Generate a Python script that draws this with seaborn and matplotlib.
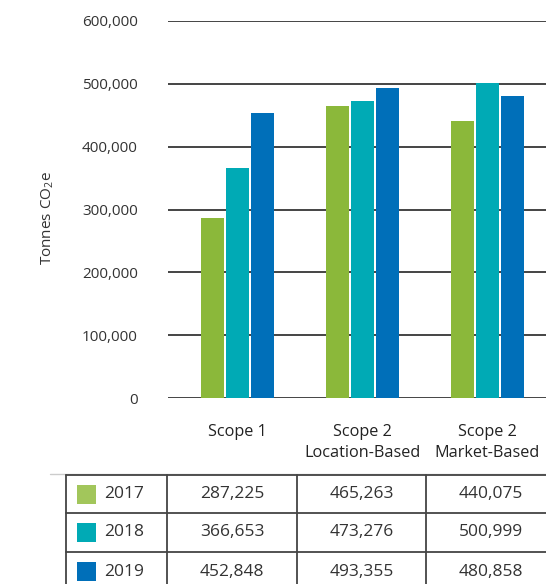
import matplotlib
matplotlib.use("Agg")
import matplotlib.pyplot as plt
import seaborn as sns
import pandas as pd
from matplotlib.patches import Rectangle

categories = ["Scope 1", "Scope 2\nLocation-Based", "Scope 2\nMarket-Based"]
years = ["2017", "2018", "2019"]
values_2017 = [287225, 465263, 440075]
values_2018 = [366653, 473276, 500999]
values_2019 = [452848, 493355, 480858]
yticks = [0, 100000, 200000, 300000, 400000, 500000, 600000]
ytick_labels = ["0", "100,000", "200,000", "300,000", "400,000", "500,000", "600,000"]
bar_colors = ["#8BB83A", "#00AAB5", "#006FB9"]
swatch_colors = ["#A2C65B", "#00AAB5", "#006FB9"]

series = {"2017": values_2017, "2018": values_2018, "2019": values_2019}
rows = []
for y in years:
    for c, v in zip(categories, series[y]):
        rows.append({"category": c, "year": y, "value": v})
df = pd.DataFrame(rows)

sns.set_theme(style="white")
plt.rcParams["font.family"] = ["Open Sans", "DejaVu Sans"]
plt.rcParams["mathtext.fontset"] = "custom"
plt.rcParams["mathtext.rm"] = "Open Sans"

W, H = 546, 584
fig = plt.figure(figsize=(W / 100, H / 100), dpi=100)
ax = fig.add_axes([168 / W, 1 - 398 / H, (546 - 168) / W, (398 - 21) / H])

sns.barplot(data=df, x="category", y="value", hue="year", palette=bar_colors,
            width=0.6, gap=0.08, legend=False, ax=ax, zorder=3, linewidth=0,
            saturation=1)

ax.set_ylim(0, 600000)
ax.set_xlim(-0.556, 2.468)
ax.set_yticks(yticks)
ax.set_yticklabels(ytick_labels, fontsize=11, color="#333333")
ax.tick_params(axis="y", length=0, pad=21.6)
ax.tick_params(axis="x", length=0, pad=19, labelsize=11.7, colors="#222222")
ax.set_xticks(range(len(categories)))
ax.set_xticklabels(categories, linespacing=1.35)
for yv in yticks:
    ax.axhline(yv, color="#444444", lw=1.4, zorder=1)
for s in ax.spines.values():
    s.set_visible(False)
ax.set_xlabel("")
ax.set_ylabel("Tonnes CO$_2$e", fontsize=11, color="#333333", labelpad=0)
ax.yaxis.set_label_coords(-(168 - 56) / 378, (398 - 218) / 377)

# Data table below the chart (figure pixel coordinates)
tab = fig.add_axes([0, 0, 1, 1], facecolor="none")
tab.set_xlim(0, W)
tab.set_ylim(H, 0)
tab.axis("off")
col_edges = [66, 167, 297, 426, 555]
row_edges = [475, 513, 552, 591]
lc = "#444444"
tab.plot([50, W], [474, 474], color="#cccccc", lw=1)
for yv in row_edges[:-1]:
    tab.plot([col_edges[0], W], [yv, yv], color=lc, lw=1.3)
for xv in col_edges[:-1]:
    tab.plot([xv, xv], [row_edges[0], H], color=lc, lw=1.3)
for i, y in enumerate(years):
    yc = (row_edges[i] + row_edges[i + 1]) / 2
    tab.add_patch(Rectangle((77, yc - 9.5), 19, 19, color=swatch_colors[i], lw=0))
    tab.text(104, yc, y, fontsize=12.5, color="#333333", va="center", ha="left")
    for j, v in enumerate(series[y]):
        xc = (col_edges[j + 1] + col_edges[j + 2]) / 2
        tab.text(xc, yc, f"{v:,}", fontsize=12.5, color="#333333", va="center", ha="center")

fig.savefig("out.png", dpi=100)
